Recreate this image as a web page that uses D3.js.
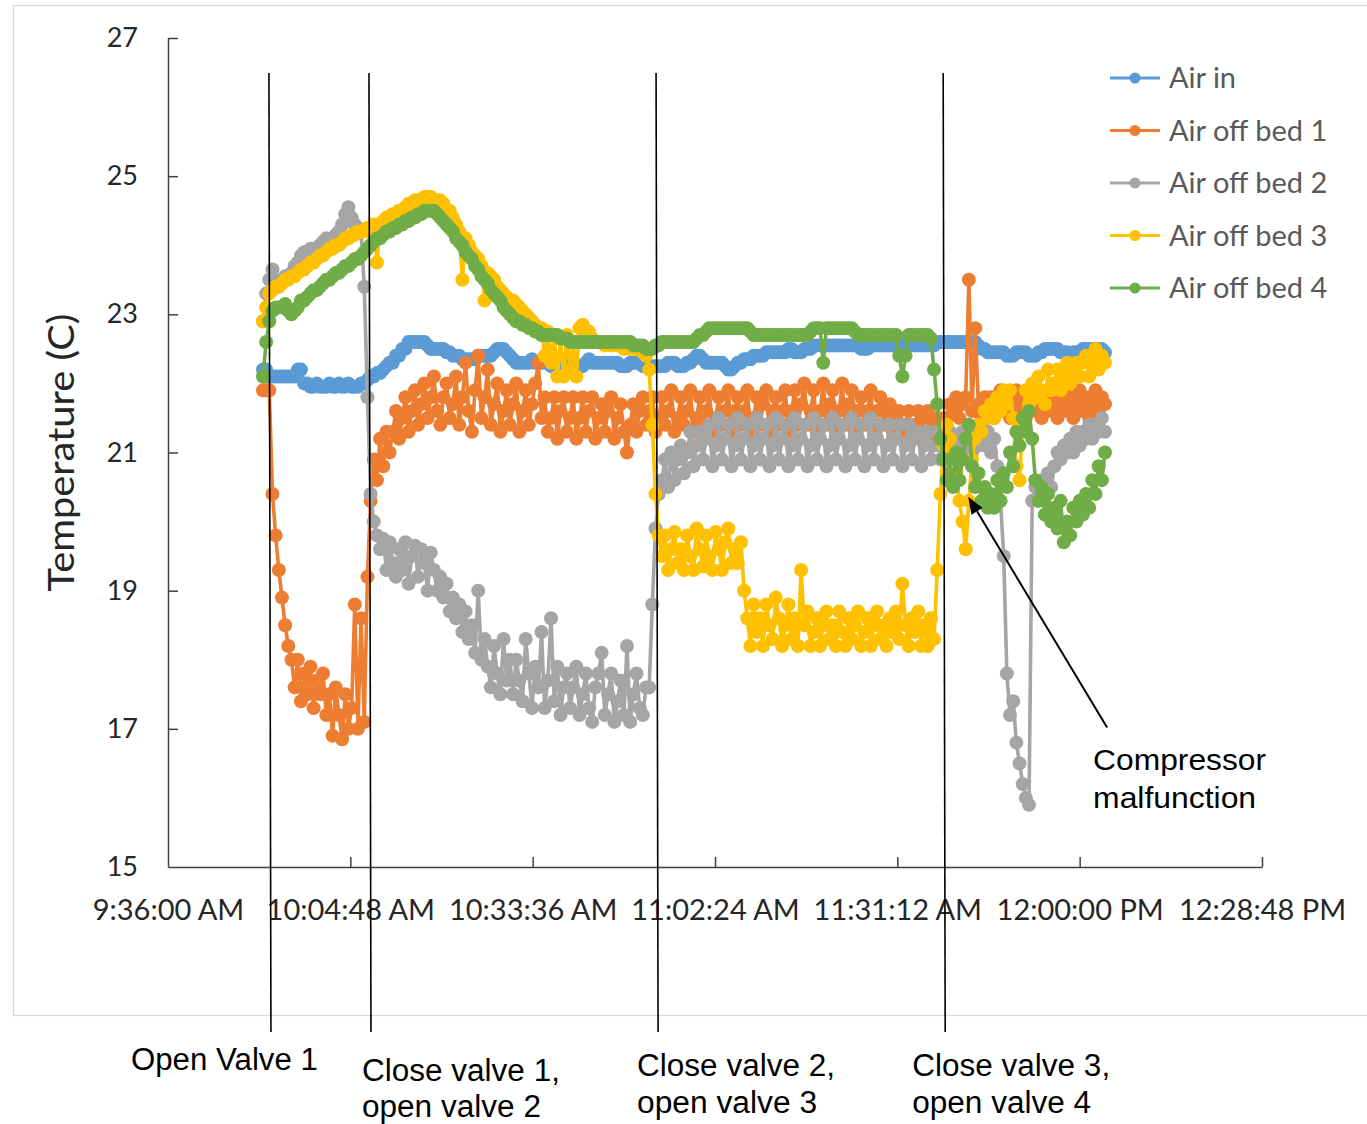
<!DOCTYPE html>
<html>
<head>
<meta charset="utf-8">
<script src="https://cdn.jsdelivr.net/npm/d3@7"></script>
<style>
  html, body { margin: 0; padding: 0; background: #ffffff; }
  svg { display: block; }
</style>
</head>
<body>
<svg id="chart" width="1367" height="1124"></svg>
<script>
// ---------------- DATA ----------------
// Readings every 30 s starting at 9:51:00 AM
const startTime = "09:51:00";
const stepSeconds = 30;

const airIn = [
  22.2, 22.2, 22.1, 22.1, 22.1, 22.1, 22.1, 22.1, 22.1, 22.1,
  22.1, 22.2, 22.2, 22.0, 22.0, 21.95, 21.95, 22.0, 21.95, 21.95,
  21.95, 22.0, 21.95, 21.95, 22.0, 21.95, 21.95, 22.0, 21.95, 21.95,
  21.95, 22.0, 22.0, 22.05, 22.1, 22.1, 22.15, 22.15, 22.2, 22.25,
  22.3, 22.3, 22.4, 22.4, 22.5, 22.5, 22.6, 22.6, 22.6, 22.6,
  22.6, 22.6, 22.55, 22.5, 22.5, 22.5, 22.5, 22.5, 22.45, 22.45,
  22.4, 22.4, 22.4, 22.35, 22.35, 22.35, 22.35, 22.35, 22.4, 22.4,
  22.4, 22.4, 22.4, 22.45, 22.5, 22.5, 22.5, 22.45, 22.4, 22.35,
  22.3, 22.3, 22.3, 22.3, 22.3, 22.35, 22.3, 22.3, 22.3, 22.3,
  22.3, 22.25, 22.25, 22.3, 22.3, 22.35, 22.3, 22.3, 22.3, 22.25,
  22.25, 22.25, 22.3, 22.35, 22.3, 22.3, 22.3, 22.3, 22.3, 22.3,
  22.3, 22.3, 22.3, 22.25, 22.25, 22.25, 22.3, 22.3, 22.3, 22.3,
  22.25, 22.25, 22.25, 22.25, 22.25, 22.25, 22.25, 22.25, 22.3, 22.3,
  22.3, 22.25, 22.25, 22.25, 22.3, 22.3, 22.35, 22.4, 22.4, 22.35,
  22.3, 22.3, 22.3, 22.3, 22.3, 22.3, 22.25, 22.2, 22.2, 22.25,
  22.3, 22.3, 22.35, 22.35, 22.35, 22.4, 22.4, 22.4, 22.4, 22.45,
  22.45, 22.45, 22.45, 22.45, 22.45, 22.45, 22.5, 22.5, 22.45, 22.45,
  22.45, 22.5, 22.5, 22.5, 22.55, 22.55, 22.55, 22.55, 22.55, 22.55,
  22.55, 22.55, 22.55, 22.55, 22.55, 22.55, 22.55, 22.55, 22.55, 22.5,
  22.5, 22.5, 22.55, 22.55, 22.55, 22.55, 22.55, 22.55, 22.55, 22.55,
  22.55, 22.55, 22.55, 22.55, 22.55, 22.55, 22.55, 22.55, 22.55, 22.55,
  22.55, 22.55, 22.55, 22.6, 22.6, 22.6, 22.6, 22.6, 22.6, 22.6,
  22.6, 22.6, 22.6, 22.6, 22.6, 22.6, 22.55, 22.5, 22.5, 22.45,
  22.45, 22.45, 22.45, 22.45, 22.45, 22.4, 22.4, 22.4, 22.45, 22.45,
  22.45, 22.45, 22.4, 22.4, 22.4, 22.45, 22.45, 22.5, 22.5, 22.5,
  22.5, 22.5, 22.45, 22.45, 22.45, 22.4, 22.45, 22.45, 22.45, 22.5,
  22.5, 22.5, 22.5, 22.5, 22.5, 22.5, 22.45
];

const airOffBed1 = [
  21.9, 21.9, 21.9, 20.4, 19.8, 19.3, 18.9, 18.5, 18.2, 18.0,
  17.6, 18.0, 17.4, 17.8, 17.5, 17.9, 17.3, 17.7, 17.5, 17.8,
  17.2, 17.5, 16.9, 17.6, 17.2, 16.85, 17.5, 17.0, 17.3, 18.8,
  17.0, 18.6, 17.1, 19.2, 20.3, 20.9, 20.6, 21.2, 20.8, 21.3,
  21.0, 21.3, 21.6, 21.2, 21.5, 21.8, 21.3, 21.6, 21.9, 21.4,
  21.7, 22.0, 21.5, 21.8, 22.1, 21.6, 21.4, 21.8, 22.0, 21.5,
  21.7, 22.1, 21.4, 21.8, 22.3, 21.6, 21.3, 21.9, 22.4, 21.5,
  21.8, 22.2, 21.4, 21.7, 22.0, 21.3, 21.6, 21.9, 21.4, 21.7,
  22.0, 21.3, 21.6, 21.9, 21.4, 21.7, 22.0, 22.3, 21.5, 21.8,
  21.3, 21.5, 21.8, 21.2, 21.6, 21.8, 21.3, 21.5, 21.8, 21.2,
  21.5, 21.8, 21.3, 21.6, 21.8, 21.2, 21.5, 21.7, 21.3, 21.6,
  21.8, 21.2, 21.5, 21.7, 21.3, 21.0, 21.4, 21.7, 21.3, 21.6,
  21.8, 21.4, 21.6, 21.8, 21.3, 21.5, 21.8, 21.4, 21.6, 21.9,
  21.3, 21.5, 21.8, 21.4, 21.6, 21.9, 21.3, 21.5, 21.8, 21.4,
  21.6, 21.9, 21.3, 21.5, 21.8, 21.4, 21.6, 21.9, 21.3, 21.6,
  21.8, 21.4, 21.6, 21.9, 21.3, 21.5, 21.8, 21.4, 21.7, 21.9,
  21.3, 21.6, 21.8, 21.4, 21.6, 21.9, 21.3, 21.6, 21.9, 21.4,
  21.7, 22.0, 21.4, 21.6, 21.9, 21.3, 21.6, 22.0, 21.4, 21.7,
  21.9, 21.3, 21.6, 22.0, 21.4, 21.7, 21.9, 21.3, 21.6, 21.8,
  21.4, 21.6, 21.9, 21.3, 21.6, 21.8, 21.4, 21.6, 21.7, 21.3,
  21.5, 21.6, 21.3, 21.4, 21.6, 21.2, 21.4, 21.6, 21.3, 21.5,
  21.6, 21.2, 21.4, 21.5, 21.3, 21.5, 21.5, 21.7, 21.6, 21.8,
  21.5, 21.7, 21.8, 23.5, 21.6, 22.8, 21.7, 21.5, 21.8, 21.6,
  21.8, 21.5, 21.7, 21.9, 21.6, 21.8, 21.5, 21.7, 21.9, 21.6,
  21.8, 21.5, 21.7, 21.9, 21.6, 21.8, 21.5, 21.7, 21.9, 21.6,
  21.8, 21.5, 21.7, 21.9, 21.6, 21.8, 21.5, 21.7, 21.9, 21.6,
  21.8, 21.5, 21.7, 21.9, 21.6, 21.8, 21.7
];

const airOffBed2 = [
  22.9, 23.3, 23.5, 23.65, 23.5, 23.45, 23.5, 23.55, 23.55, 23.6,
  23.7, 23.75, 23.85, 23.9, 23.9, 23.95, 23.95, 23.9, 24.0, 24.05,
  24.1, 24.05, 24.1, 24.15, 24.2, 24.3, 24.45, 24.55, 24.4, 24.3,
  24.25, 24.2, 23.4, 21.8, 20.4, 20.0, 19.8, 19.6, 19.75, 19.3,
  19.7, 19.4, 19.2, 19.6, 19.3, 19.7, 19.1, 19.5, 19.65, 19.2,
  19.6, 19.4, 19.0, 19.55, 19.3, 19.0, 19.2, 18.9, 19.1, 18.7,
  18.9, 18.6, 18.8, 18.4, 18.7, 18.3, 18.5, 18.1, 19.0, 18.0,
  18.3, 17.9, 17.6, 18.2, 17.8, 17.5, 18.3, 17.7, 18.0, 17.5,
  18.0, 17.7, 17.4, 18.3, 17.8, 17.3, 17.9, 17.6, 18.4, 17.3,
  17.7, 18.6, 17.4, 17.9, 17.2, 17.6, 17.8, 17.3, 17.6, 17.9,
  17.2, 17.5, 17.8, 17.3, 17.1, 17.6, 17.8, 18.1, 17.2, 17.5,
  17.8, 17.1, 17.4, 17.7, 17.2, 18.2, 17.1, 17.5, 17.8, 17.3,
  17.2, 17.6, 17.6, 18.8, 19.9, 20.4, 20.6, 20.9, 20.5, 21.0,
  20.6, 20.9, 21.1, 20.7, 21.0, 21.3, 20.8, 21.1, 21.3, 20.9,
  21.2, 21.4, 20.8, 21.1, 21.5, 20.9, 21.2, 21.4, 20.8, 21.1,
  21.5, 20.9, 21.2, 21.4, 20.8, 21.1, 21.5, 20.9, 21.2, 21.4,
  20.8, 21.1, 21.5, 20.9, 21.2, 21.4, 20.8, 21.1, 21.5, 20.9,
  21.2, 21.4, 20.8, 21.1, 21.5, 20.9, 21.2, 21.4, 20.8, 21.1,
  21.5, 20.9, 21.2, 21.4, 20.8, 21.1, 21.5, 20.9, 21.2, 21.4,
  20.8, 21.1, 21.5, 20.9, 21.2, 21.4, 20.8, 21.1, 21.4, 20.9,
  21.2, 21.4, 20.8, 21.1, 21.4, 20.9, 21.2, 21.3, 20.8, 21.1,
  21.3, 20.9, 21.1, 21.3, 20.9, 21.2, 21.0, 21.3, 21.1, 21.2,
  21.0, 21.3, 21.1, 21.3, 21.0, 21.3, 21.1, 21.4, 21.1, 21.3,
  21.0, 21.2, 20.8, 20.3, 19.5, 17.8, 17.2, 17.4, 16.8, 16.5,
  16.2, 16.0, 15.9, 20.3, 20.5, 20.3, 20.6, 20.4, 20.7, 20.5,
  20.8, 21.0, 20.9, 21.1, 21.0, 21.2, 21.0, 21.3, 21.1, 21.3,
  21.2, 21.4, 21.2, 21.4, 21.3, 21.5, 21.3
];

const airOffBed3 = [
  22.9, 23.1, 23.3, 23.35, 23.4, 23.4, 23.45, 23.5, 23.5, 23.55,
  23.55, 23.6, 23.65, 23.65, 23.7, 23.75, 23.75, 23.8, 23.85, 23.85,
  23.9, 23.95, 23.95, 24.0, 24.0, 24.05, 24.1, 24.1, 24.15, 24.15,
  24.2, 24.2, 24.2, 24.25, 24.25, 24.3, 23.75, 24.3, 24.35, 24.4,
  24.4, 24.45, 24.45, 24.5, 24.5, 24.55, 24.6, 24.6, 24.65, 24.65,
  24.65, 24.7, 24.7, 24.7, 24.65, 24.65, 24.65, 24.6, 24.5, 24.5,
  24.4, 24.3, 24.2, 23.5, 24.1, 24.0, 23.9, 23.85, 23.8, 23.7,
  23.2, 23.6, 23.55, 23.5, 23.4, 23.35, 23.3, 23.25, 23.0, 23.2,
  23.15, 23.1, 23.05, 23.0, 22.95, 22.9, 22.85, 22.8, 22.8, 22.4,
  22.75, 22.3, 22.7, 22.1, 22.65, 22.1, 22.7, 22.2, 22.6, 22.1,
  22.8, 22.85, 22.7, 22.75, 22.65, 22.6, 22.6, 22.6, 22.55, 22.6,
  22.55, 22.6, 22.55, 22.55, 22.5, 22.55, 22.5, 22.5, 22.5, 22.5,
  22.45, 22.4, 22.2, 21.4, 20.4, 19.8, 19.5, 19.8, 19.3, 19.6,
  19.85, 19.4, 19.6, 19.3, 19.8, 19.5, 19.3, 19.9, 19.6, 19.35,
  19.8, 19.5, 19.3, 19.85, 19.6, 19.3, 19.7, 19.9, 19.4, 19.6,
  19.4, 19.7, 19.0, 18.6, 18.2, 18.8, 18.4, 18.6, 18.2, 18.8,
  18.5, 18.3, 18.9, 18.6, 18.2, 18.5, 18.8, 18.3, 18.6, 18.2,
  19.3, 18.5, 18.7, 18.2, 18.4, 18.6, 18.2, 18.5, 18.7, 18.3,
  18.5, 18.2, 18.7, 18.4, 18.2, 18.6, 18.3, 18.5, 18.7, 18.2,
  18.4, 18.6, 18.2, 18.5, 18.7, 18.3, 18.5, 18.2, 18.6, 18.4,
  18.7, 18.3, 19.1, 18.5, 18.2, 18.6, 18.4, 18.7, 18.2, 18.5,
  18.2, 18.6, 18.3, 19.3, 20.4, 21.1, 21.4, 21.2, 21.0, 20.7,
  20.3, 20.0, 19.6, 20.3, 20.9, 21.2, 21.4, 21.3, 21.6, 21.5,
  21.7, 21.5, 21.8, 21.6, 21.9, 21.7, 21.9, 21.5, 20.8, 20.6,
  21.4, 21.9, 21.7, 22.0, 21.8, 22.1, 21.9, 21.7, 22.2, 21.9,
  22.0, 22.2, 21.9, 22.1, 22.3, 22.0, 22.2, 22.3, 22.1, 22.3,
  22.4, 22.1, 22.3, 22.5, 22.2, 22.4, 22.3
];

const airOffBed4 = [
  22.1, 22.6, 22.9, 23.05, 23.1, 23.1, 23.1, 23.15, 23.05, 23.0,
  23.05, 23.1, 23.2, 23.2, 23.25, 23.3, 23.35, 23.35, 23.4, 23.45,
  23.5, 23.5, 23.55, 23.6, 23.6, 23.65, 23.7, 23.7, 23.75, 23.8,
  23.8, 23.85, 23.9, 23.95, 24.0, 24.05, 24.1, 24.1, 24.15, 24.2,
  24.2, 24.25, 24.25, 24.3, 24.3, 24.35, 24.35, 24.4, 24.4, 24.45,
  24.45, 24.5, 24.5, 24.5, 24.5, 24.45, 24.4, 24.35, 24.3, 24.25,
  24.2, 24.1, 24.05, 24.0, 23.9, 23.85, 23.8, 23.7, 23.65, 23.55,
  23.5, 23.45, 23.35, 23.3, 23.25, 23.2, 23.1, 23.05, 23.0, 22.95,
  22.9, 22.9, 22.85, 22.85, 22.8, 22.8, 22.75, 22.75, 22.7, 22.7,
  22.7, 22.7, 22.7, 22.7, 22.65, 22.65, 22.65, 22.6, 22.6, 22.6,
  22.6, 22.6, 22.6, 22.6, 22.6, 22.6, 22.6, 22.6, 22.6, 22.6,
  22.6, 22.6, 22.6, 22.6, 22.6, 22.6, 22.6, 22.55, 22.55, 22.55,
  22.55, 22.5, 22.5, 22.5, 22.55, 22.55, 22.6, 22.6, 22.6, 22.6,
  22.6, 22.6, 22.6, 22.6, 22.6, 22.6, 22.6, 22.65, 22.7, 22.7,
  22.75, 22.8, 22.8, 22.8, 22.8, 22.8, 22.8, 22.8, 22.8, 22.8,
  22.8, 22.8, 22.8, 22.8, 22.75, 22.7, 22.7, 22.7, 22.7, 22.7,
  22.7, 22.7, 22.7, 22.7, 22.7, 22.7, 22.7, 22.7, 22.7, 22.7,
  22.7, 22.7, 22.7, 22.75, 22.8, 22.8, 22.8, 22.3, 22.8, 22.8,
  22.8, 22.8, 22.8, 22.8, 22.8, 22.8, 22.8, 22.75, 22.7, 22.7,
  22.7, 22.7, 22.7, 22.7, 22.7, 22.7, 22.7, 22.7, 22.7, 22.7,
  22.7, 22.4, 22.1, 22.4, 22.7, 22.7, 22.7, 22.7, 22.7, 22.7,
  22.7, 22.65, 22.2, 21.7, 21.2, 20.9, 20.6, 20.9, 20.5, 21.0,
  20.6, 20.9, 21.2, 21.4, 20.8, 20.5, 20.7, 20.3, 20.5, 20.2,
  20.4, 20.2, 20.6, 20.3, 20.7, 20.5, 21.0, 20.8, 21.3, 21.1,
  21.5, 21.3, 21.6, 21.2, 20.6, 20.3, 20.5, 20.1, 20.4, 20.0,
  20.2, 19.9, 20.3, 19.7, 20.0, 19.8, 20.2, 20.0, 20.3, 20.1,
  20.4, 20.2, 20.6, 20.4, 20.8, 20.6, 21.0
];

const seriesNames = ["Air in", "Air off bed 1", "Air off bed 2", "Air off bed 3", "Air off bed 4"];
const seriesColors = ["#5B9BD5", "#ED7D31", "#A5A5A5", "#FFC000", "#70AD47"];
const seriesValues = [airIn, airOffBed1, airOffBed2, airOffBed3, airOffBed4];

const xTickLabels = ["9:36:00 AM", "10:04:48 AM", "10:33:36 AM", "11:02:24 AM", "11:31:12 AM", "12:00:00 PM", "12:28:48 PM"];
const yTickValues = [15, 17, 19, 21, 23, 25, 27];
const yTitle = "Temperature (C)";

// valve events
const valveTimes = ["09:52:06", "10:07:54", "10:53:15", "11:38:36"];
const valveLabels = [
  ["Open Valve 1"],
  ["Close valve 1,", "open valve 2"],
  ["Close valve 2,", "open valve 3"],
  ["Close valve 3,", "open valve 4"]
];
// compressor annotation: arrow head (time, value) and tail (time, value)
const arrowHead = { time: "11:42:24", value: 20.36 };
const arrowTail = { time: "12:04:20", value: 17.02 };
const annotationText = ["Compressor", "malfunction"];

// ---------------- LAYOUT ----------------
const M = { left: 168, right: 1262, top: 38, bottom: 867 };
const valveLineTop = 73, valveLineBottom = 1032;
const valveLabelLayout = [
  { dx: -140, y: [1070], w: [187] },
  { dx: -9,   y: [1081, 1117], w: [198, 179] },
  { dx: -21,  y: [1076, 1113], w: [198, 180] },
  { dx: -33,  y: [1076, 1113], w: [198, 179] }
];

const svg = d3.select("#chart");
const parseClock = d3.timeParse("%H:%M:%S");
const parseTick = d3.timeParse("%I:%M:%S %p");
const tickDates = xTickLabels.map(parseTick);
const t0 = parseClock(startTime);

const x = d3.scaleTime()
  .domain([tickDates[0], tickDates[tickDates.length - 1]])
  .range([M.left, M.right]);
const y = d3.scaleLinear().domain([15, 27]).range([M.bottom, M.top]);

// outer chart border
svg.append("rect")
  .attr("x", 13.5).attr("y", 5.5)
  .attr("width", 1360).attr("height", 1010)
  .attr("fill", "#ffffff").attr("stroke", "#d9d9d9").attr("stroke-width", 1.3);

// series
const line = d3.line().x(d => x(d.t)).y(d => y(d.v));
seriesValues.forEach((vals, si) => {
  const pts = vals.map((v, i) => ({ t: new Date(t0.getTime() + i * stepSeconds * 1000), v }));
  const g = svg.append("g").attr("class", "series");
  g.append("path").datum(pts)
    .attr("d", line)
    .attr("fill", "none")
    .attr("stroke", seriesColors[si])
    .attr("stroke-width", 3.6)
    .attr("stroke-linejoin", "round");
  g.selectAll("circle").data(pts).join("circle")
    .attr("cx", d => x(d.t)).attr("cy", d => y(d.v))
    .attr("r", 7)
    .attr("fill", seriesColors[si]);
});

// axes
const axisColor = "#404040";
const tickFont = "Lato, 'Open Sans', sans-serif";

const xAxis = d3.axisBottom(x)
  .tickValues(tickDates)
  .tickFormat((d, i) => xTickLabels[i])
  .tickSizeInner(-10)
  .tickSizeOuter(0)
  .tickPadding(32);
const gx = svg.append("g").attr("transform", `translate(0,${M.bottom})`).call(xAxis);

const yAxis = d3.axisLeft(y)
  .tickValues(yTickValues)
  .tickFormat(d3.format("d"))
  .tickSizeInner(-10)
  .tickSizeOuter(0)
  .tickPadding(30);
const gy = svg.append("g").attr("transform", `translate(${M.left},0)`).call(yAxis);

[gx, gy].forEach(g => {
  g.select(".domain").attr("stroke", axisColor).attr("stroke-width", 1.5);
  g.selectAll(".tick line").attr("stroke", axisColor).attr("stroke-width", 1.5);
  g.selectAll(".tick text")
    .attr("fill", "#262626")
    .style("font-family", tickFont);
});
gx.selectAll(".tick text").style("font-size", "29px");
gy.selectAll(".tick text").style("font-size", "27px");
gx.select(".tick line").remove(); // first tick hidden under y axis
gy.selectAll(".tick").filter(d => d === 15).select("line").remove();

// y title
svg.append("text")
  .attr("transform", `translate(74,${(M.top + M.bottom) / 2}) rotate(-90)`)
  .attr("text-anchor", "middle")
  .attr("textLength", 278).attr("lengthAdjust", "spacingAndGlyphs")
  .attr("fill", "#262626")
  .style("font-family", tickFont)
  .style("font-size", "37px")
  .text(yTitle);

// legend
const legendY0 = 78, legendDY = 52.5;
const lg = svg.append("g");
seriesNames.forEach((name, i) => {
  const yy = legendY0 + i * legendDY;
  lg.append("line").attr("x1", 1110).attr("x2", 1160).attr("y1", yy).attr("y2", yy)
    .attr("stroke", seriesColors[i]).attr("stroke-width", 3);
  lg.append("circle").attr("cx", 1135).attr("cy", yy).attr("r", 5.5).attr("fill", seriesColors[i]);
  lg.append("text").attr("x", 1169).attr("y", yy).attr("dy", "0.35em")
    .attr("fill", "#595959")
    .style("font-family", tickFont)
    .style("font-size", "29px")
    .text(name);
});

// valve lines and labels
const annFont = "'Liberation Sans', Arial, sans-serif";
valveTimes.forEach((tStr, i) => {
  const xv = x(parseClock(tStr));
  svg.append("line")
    .attr("x1", xv - 1).attr("x2", xv + 1)
    .attr("y1", valveLineTop).attr("y2", valveLineBottom)
    .attr("stroke", "#000").attr("stroke-width", 1.6);
  const lay = valveLabelLayout[i];
  valveLabels[i].forEach((txt, j) => {
    svg.append("text")
      .attr("x", xv + 1 + lay.dx).attr("y", lay.y[j])
      .attr("textLength", lay.w[j]).attr("lengthAdjust", "spacingAndGlyphs")
      .attr("fill", "#000")
      .style("font-family", annFont)
      .style("font-size", "31px")
      .text(txt);
  });
});

// compressor annotation arrow
const hx = x(parseClock(arrowHead.time)), hy = y(arrowHead.value);
const tx = x(parseClock(arrowTail.time)), ty = y(arrowTail.value);
const ang = Math.atan2(hy - ty, hx - tx);
const headLen = 17, headW = 6.5;
const bx = hx - headLen * Math.cos(ang), by = hy - headLen * Math.sin(ang);
svg.append("line")
  .attr("x1", tx).attr("y1", ty).attr("x2", bx).attr("y2", by)
  .attr("stroke", "#000").attr("stroke-width", 2);
svg.append("path")
  .attr("d", `M${hx},${hy} L${bx + headW * Math.sin(ang)},${by - headW * Math.cos(ang)} L${bx - headW * Math.sin(ang)},${by + headW * Math.cos(ang)} Z`)
  .attr("fill", "#000");
const annW = [173, 163];
annotationText.forEach((txt, j) => {
  svg.append("text")
    .attr("x", tx - 14).attr("y", ty + 43 + j * 38)
    .attr("textLength", annW[j]).attr("lengthAdjust", "spacingAndGlyphs")
    .attr("fill", "#000")
    .style("font-family", annFont)
    .style("font-size", "30px")
    .text(txt);
});
</script>
</body>
</html>
